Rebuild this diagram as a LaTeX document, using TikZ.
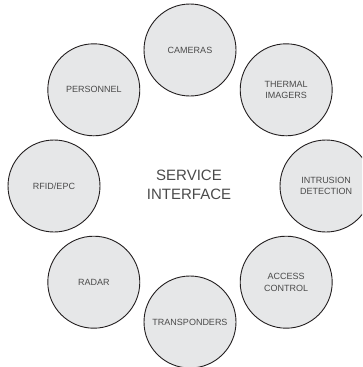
\documentclass[tikz,border=0pt]{standalone}
\usepackage{fontspec}
\setmainfont{Liberation Sans}
\definecolor{strokec}{HTML}{231F20}
\definecolor{fillc}{HTML}{E6E7E8}
\definecolor{textc}{HTML}{4A4A4A}
\begin{document}
\begin{tikzpicture}[x=1pt,y=-1pt,
  item/.style={circle, draw=strokec, fill=fillc, line width=0.9pt,
    minimum size=92pt, inner sep=0pt, align=center, text=textc,
    font=\fontsize{9}{11.7}\selectfont},
  hub/.style={align=center, text=textc, inner sep=0pt,
    font=\fontsize{15}{19}\selectfont}]
\useasboundingbox (0,0) rectangle (362,367);
\clip (0,0) rectangle (362,367);
\node[hub] (hub) at (189,185) {SERVICE\\INTERFACE};
\node[item] (cam) at (190,50) {CAMERAS};
\node[item] (therm) at (286.2,89.8) {THERMAL\\IMAGERS};
\node[item] (intr) at (326,186) {INTRUSION\\DETECTION};
\node[item] (acc) at (286.2,282.2) {ACCESS\\CONTROL};
\node[item] (trans) at (190,322) {TRANSPONDERS};
\node[item] (radar) at (93.8,282.2) {RADAR};
\node[item] (rfid) at (54,186) {RFID/EPC};
\node[item] (pers) at (93.8,89.8) {PERSONNEL};
\end{tikzpicture}
\end{document}
